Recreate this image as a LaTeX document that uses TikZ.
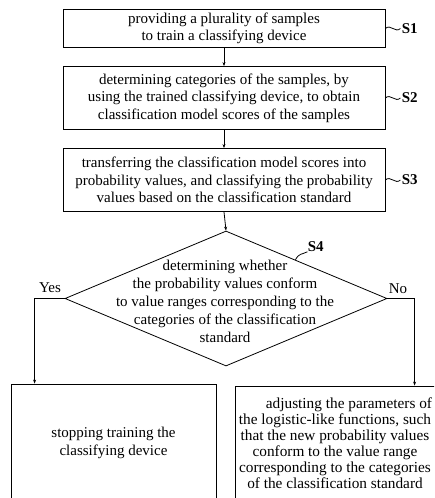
\documentclass[tikz,border=0pt]{standalone}
\usepackage{fontspec}
\setmainfont{Liberation Serif}
\usetikzlibrary{arrows.meta,shapes.geometric,calc}
\begin{document}
\begin{tikzpicture}[x=1pt,y=-1pt,
  line width=0.8pt,
  txt/.style={font=\fontsize{15}{17.5}\selectfont,align=center,inner sep=0pt},
  box/.style={txt,draw,minimum width=322pt},
  arr/.style={-{Stealth[length=4pt,width=3pt]}},
  lbl/.style={font=\fontsize{15}{17}\selectfont,inner sep=0pt},
  slbl/.style={lbl,font=\fontsize{15}{17}\selectfont\bfseries}]
\useasboundingbox (0,0) rectangle (434,498);
\clip (0,0) rectangle (434,498);
\node[box,minimum height=38pt] (s1) at (224,28.5)
  {providing a plurality of samples\\to train a classifying device};
\node[box,minimum height=63pt] (s2) at (224,98)
  {determining categories of the samples, by\\using the trained classifying device, to obtain\\classification model scores of the samples};
\node[box,minimum height=63pt] (s3) at (224,180)
  {transferring the classification model scores into\\probability values, and classifying the probability\\values based on the classification standard};
\node[draw,diamond,minimum width=322pt,minimum height=135pt,inner sep=0pt] (s4) at (226,298.5) {};
\node[txt,font=\fontsize{15}{18}\selectfont] (s4t) at (225,301)
  {determining whether\\the probability values conform\\to value ranges corresponding to the\\categories of the classification\\standard};
\node[txt,draw,minimum width=205pt,minimum height=118pt] (s5) at (113.5,443)
  {stopping training the\\classifying device};
\node[txt,draw,minimum width=201pt,minimum height=114pt] (s6) at (335.5,443) {};
\node[txt,font=\fontsize{15.3}{16}\selectfont] (s6t) at (335,443)
  {\hspace*{28pt}adjusting the parameters of\\the logistic-like functions, such\\that the new probability values\\conform to the value range\\corresponding to the categories\\of the classification standard};
\draw[arr] (s1.south) -- (s2.north);
\draw[arr] (s2.south) -- (s3.north);
\draw[arr] (s3.south) -- (s4.north);
\draw[arr] (s4.west) -| ([xshift=24pt]s5.north west);
\draw[arr] (s4.east) -| ([xshift=180pt]s6.north west);
\node[lbl] (yes) at (50,288) {Yes};
\node[lbl] (no) at (398,289) {No};
\node[slbl,anchor=west] (l1) at ([xshift=16pt]s1.east) {S1};
\node[slbl,anchor=west] (l2) at ([xshift=16pt]s2.east) {S2};
\node[slbl,anchor=west] (l3) at ([xshift=16pt]s3.east) {S3};
\draw (s1.east) .. controls +(5,-5) and +(-5,5) .. ([xshift=-1pt]l1.west);
\draw (s2.east) .. controls +(5,-5) and +(-5,5) .. ([xshift=-1pt]l2.west);
\draw (s3.east) .. controls +(5,-5) and +(-5,5) .. ([xshift=-1pt]l3.west);
\coordinate (e4) at ($(s4.north)!0.43!(s4.east)$);
\node[slbl,anchor=south west] (l4) at ([xshift=12pt,yshift=8pt]e4) {S4};
\draw (e4) .. controls +(4,-7) and +(-6,3) .. (l4.south west);
\end{tikzpicture}
\end{document}
